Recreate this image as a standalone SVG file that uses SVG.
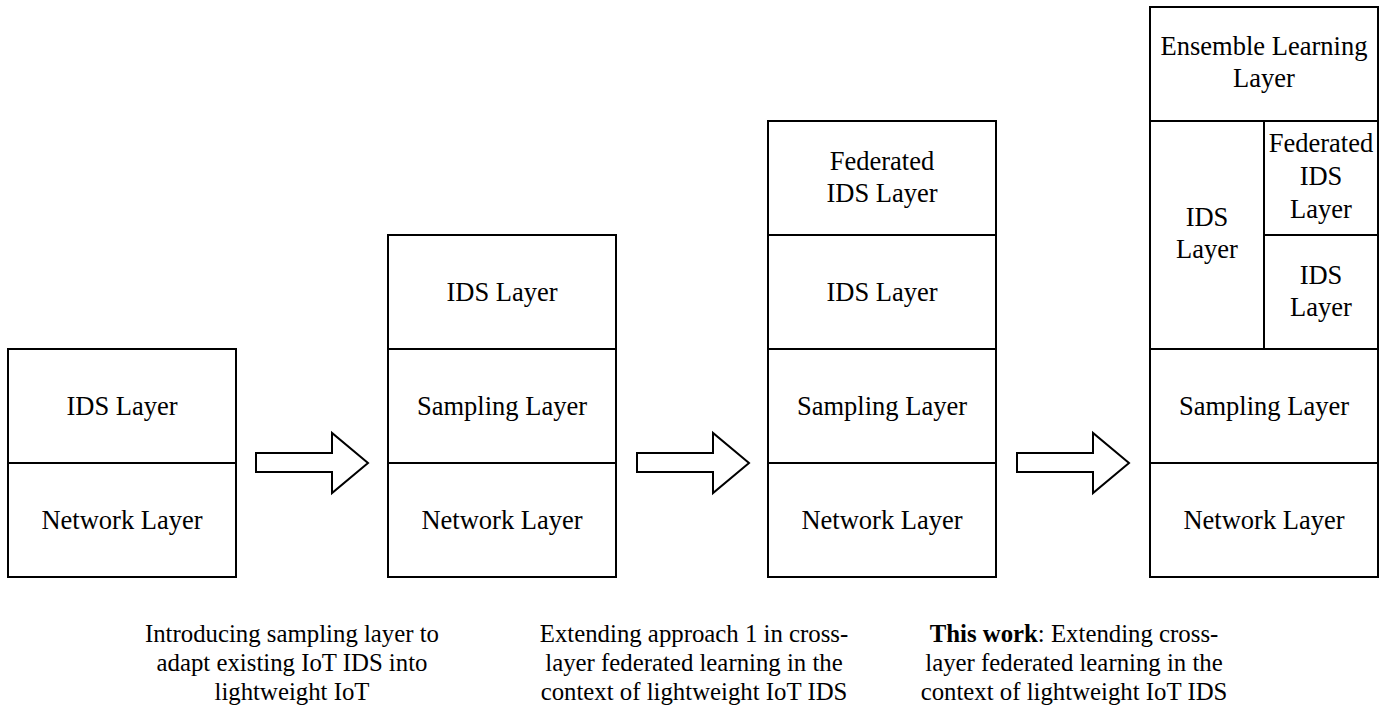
<svg xmlns="http://www.w3.org/2000/svg" width="1393" height="706" viewBox="0 0 1393 706">
<style>
.box{fill:#fff;stroke:#000;stroke-width:2}
.ln{stroke:#000;stroke-width:2;fill:none}
.t{font-family:"Liberation Serif","Times New Roman",serif;font-size:26.5px;fill:#000;text-anchor:middle}
.c{font-family:"Liberation Serif","Times New Roman",serif;font-size:24.8px;fill:#000;text-anchor:middle}
.arr{fill:#fff;stroke:#000;stroke-width:2;stroke-linejoin:miter}
</style>
<rect width="1393" height="706" fill="#fff"/>
<g id="stack1">
<rect class="box" x="8" y="349" width="228" height="228"/>
<line class="ln" x1="8" y1="463" x2="236" y2="463"/>
<text class="t" x="122" y="415">IDS Layer</text>
<text class="t" x="122" y="529">Network Layer</text>
</g>
<g id="stack2">
<rect class="box" x="388" y="235" width="228" height="342"/>
<line class="ln" x1="388" y1="349" x2="616" y2="349"/>
<line class="ln" x1="388" y1="463" x2="616" y2="463"/>
<text class="t" x="502" y="301">IDS Layer</text>
<text class="t" x="502" y="415">Sampling Layer</text>
<text class="t" x="502" y="529">Network Layer</text>
</g>
<g id="stack3">
<rect class="box" x="768" y="121" width="228" height="456"/>
<line class="ln" x1="768" y1="235" x2="996" y2="235"/>
<line class="ln" x1="768" y1="349" x2="996" y2="349"/>
<line class="ln" x1="768" y1="463" x2="996" y2="463"/>
<text class="t" x="882" y="170">Federated</text>
<text class="t" x="882" y="202">IDS Layer</text>
<text class="t" x="882" y="301">IDS Layer</text>
<text class="t" x="882" y="415">Sampling Layer</text>
<text class="t" x="882" y="529">Network Layer</text>
</g>
<g id="stack4">
<rect class="box" x="1150" y="7" width="228" height="570"/>
<line class="ln" x1="1150" y1="121" x2="1378" y2="121"/>
<line class="ln" x1="1264" y1="121" x2="1264" y2="349"/>
<line class="ln" x1="1264" y1="235" x2="1378" y2="235"/>
<line class="ln" x1="1150" y1="349" x2="1378" y2="349"/>
<line class="ln" x1="1150" y1="463" x2="1378" y2="463"/>
<text class="t" x="1264" y="55">Ensemble Learning</text>
<text class="t" x="1264" y="87">Layer</text>
<text class="t" x="1207" y="226">IDS</text>
<text class="t" x="1207" y="258">Layer</text>
<text class="t" x="1321" y="152">Federated</text>
<text class="t" x="1321" y="185">IDS</text>
<text class="t" x="1321" y="218">Layer</text>
<text class="t" x="1321" y="284">IDS</text>
<text class="t" x="1321" y="316">Layer</text>
<text class="t" x="1264" y="415">Sampling Layer</text>
<text class="t" x="1264" y="529">Network Layer</text>
</g>
<g id="connectors">
<path class="arr" d="M256,453 H332 V433 L368,463 L332,493 V472 H256 Z"/>
<path class="arr" d="M637,453 H713 V433 L749,463 L713,493 V472 H637 Z"/>
<path class="arr" d="M1017,453 H1093 V433 L1129,463 L1093,493 V472 H1017 Z"/>
</g>
<g id="captions">
<text class="c" x="292" y="642">Introducing sampling layer to</text>
<text class="c" x="292" y="671">adapt existing IoT IDS into</text>
<text class="c" x="292" y="700">lightweight IoT</text>
<text class="c" x="694" y="642">Extending approach 1 in cross-</text>
<text class="c" x="694" y="671">layer federated learning in the</text>
<text class="c" x="694" y="700">context of lightweight IoT IDS</text>
<text class="c" x="1074" y="642"><tspan font-weight="bold">This work</tspan>: Extending cross-</text>
<text class="c" x="1074" y="671">layer federated learning in the</text>
<text class="c" x="1074" y="700">context of lightweight IoT IDS</text>
</g>
</svg>
